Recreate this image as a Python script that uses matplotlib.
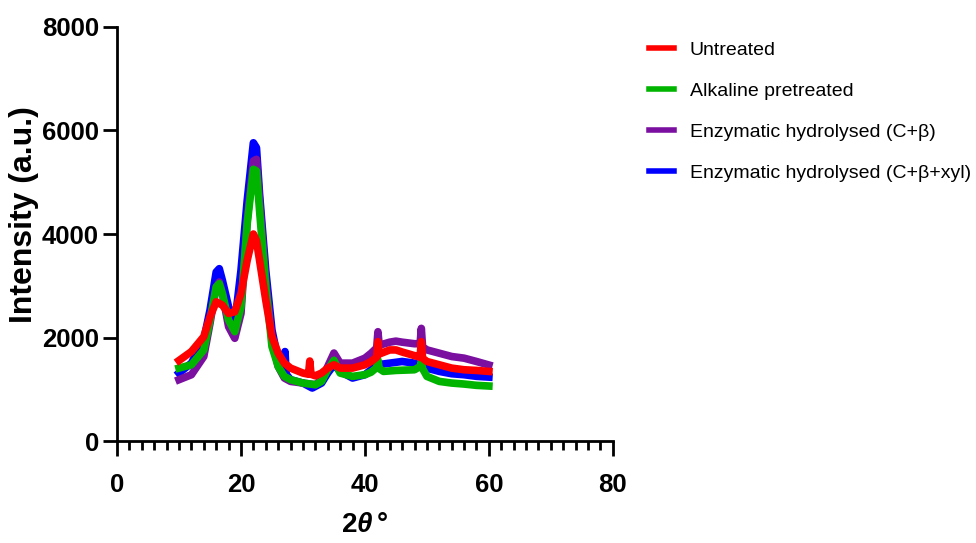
import numpy as np
import matplotlib
matplotlib.use("Agg")
import matplotlib.pyplot as plt
from matplotlib.ticker import MultipleLocator

plt.rcParams['font.family'] = ['Liberation Sans', 'DejaVu Sans']
plt.rcParams['mathtext.fontset'] = 'custom'
plt.rcParams['mathtext.bf'] = 'Liberation Sans:bold'
plt.rcParams['mathtext.it'] = 'Liberation Sans:bold:italic'
plt.rcParams['mathtext.rm'] = 'Liberation Sans:bold'

# values (2theta in degrees, intensity in a.u.)
untreated_x = [10, 12, 14, 15, 16, 17, 18, 19, 20, 21, 22, 22.5, 23, 24, 25, 26, 27, 28,
               30, 30.9, 31.1, 31.3, 32, 33, 34, 35, 36, 38, 40, 41, 41.9, 42.1, 42.3,
               44, 45, 46, 48, 48.9, 49.1, 49.3, 50, 52, 54, 56, 58, 60]
untreated_y = [1556, 1728, 2017, 2400, 2690, 2625, 2465, 2497, 2850, 3490, 4000, 3870, 3490,
               2720, 2017, 1697, 1505, 1409, 1313, 1290, 1546, 1290, 1260, 1313, 1409, 1473,
               1409, 1409, 1473, 1537, 1620, 1920, 1680, 1760, 1760, 1720, 1650, 1620, 1919,
               1600, 1537, 1473, 1409, 1377, 1364, 1345]

alkaline_x = [10, 12, 14, 15, 16, 16.5, 17, 18, 19, 20, 21, 22, 22.5, 23, 24, 25, 26, 27, 28,
              30, 32, 33, 34, 35, 36, 38, 40, 41, 41.9, 42.1, 42.3, 43, 45, 48, 48.9, 49.1,
              49.3, 50, 52, 54, 56, 58, 60]
alkaline_y = [1409, 1473, 1760, 2337, 2977, 3041, 2850, 2337, 2113, 2593, 4194, 5250, 5218,
              4450, 2977, 1825, 1441, 1249, 1185, 1120, 1088, 1152, 1377, 1560, 1313, 1249,
              1281, 1330, 1420, 1565, 1400, 1345, 1364, 1377, 1440, 1533, 1400, 1249, 1152,
              1120, 1101, 1076, 1063]

enz_cb_x = [10, 12, 14, 15, 16, 16.5, 17, 18, 19, 20, 21, 22, 22.5, 23, 24, 25, 26, 27, 28,
            30, 32, 33, 34, 35, 36, 38, 40, 41, 41.9, 42.1, 42.3, 44, 45, 46, 48, 48.9, 49.1,
            49.3, 50, 52, 54, 56, 58, 60]
enz_cb_y = [1185, 1281, 1633, 2273, 2977, 3073, 2850, 2209, 1985, 2465, 4258, 5411, 5443,
            4642, 3105, 1953, 1441, 1217, 1152, 1120, 1088, 1185, 1441, 1700, 1505, 1505,
            1601, 1697, 1800, 2112, 1850, 1910, 1930, 1910, 1880, 1880, 2177, 1820, 1761,
            1697, 1633, 1601, 1537, 1469]

enz_cbx_x = [10, 12, 14, 15, 16, 16.5, 17, 18, 19, 20, 21, 22, 22.5, 23, 24, 25, 26, 26.9,
             27.1, 27.3, 28, 30, 31.5, 33, 34, 35, 36, 38, 40, 42, 44, 46, 48, 50, 52, 54,
             56, 58, 60]
enz_cbx_y = [1313, 1505, 1953, 2529, 3265, 3330, 3105, 2593, 2273, 3297, 4642, 5763, 5667,
             4770, 3297, 2145, 1569, 1330, 1729, 1290, 1185, 1120, 1024, 1120, 1313, 1473,
             1345, 1217, 1281, 1473, 1505, 1537, 1505, 1409, 1345, 1300, 1281, 1250, 1235]

labels = ["Untreated", "Alkaline pretreated",
          "Enzymatic hydrolysed (C+β)", "Enzymatic hydrolysed (C+β+xyl)"]
colors = ["#ff0000", "#00b400", "#7a0fa0", "#0000ff"]
xs = [untreated_x, alkaline_x, enz_cb_x, enz_cbx_x]
ys = [untreated_y, alkaline_y, enz_cb_y, enz_cbx_y]

fig = plt.figure(figsize=(9.76, 5.43), dpi=100)
ax = fig.add_axes([0.1199, 0.1878, 0.508, 0.7625])

# draw blue first, red last (red sits on top in the original)
lines = [None] * 4
for i in [3, 2, 1, 0]:
    lines[i], = ax.plot(xs[i], ys[i], color=colors[i], lw=5.5,
                        solid_joinstyle='round', label=labels[i])

ax.set_xlim(0, 80)
ax.set_ylim(0, 8000)
ax.xaxis.set_major_locator(MultipleLocator(20))
ax.xaxis.set_minor_locator(MultipleLocator(2))
ax.yaxis.set_major_locator(MultipleLocator(2000))

for s in ['top', 'right']:
    ax.spines[s].set_visible(False)
for s in ['left', 'bottom']:
    ax.spines[s].set_linewidth(2.0)

ax.tick_params(axis='y', which='major', direction='out', length=10, width=2.0, pad=3)
ax.tick_params(axis='x', which='major', direction='out', length=11, width=2.0, pad=12)
ax.tick_params(axis='x', which='minor', direction='out', length=6.5, width=2.0)
for lab in ax.get_yticklabels():
    lab.set_fontweight('bold')
    lab.set_fontsize(18.5)
for lab in ax.get_xticklabels():
    lab.set_fontweight('bold')
    lab.set_fontsize(18.5)

ax.set_ylabel("Intensity (a.u.)", fontsize=23, fontweight='bold')
ax.yaxis.set_label_coords(-0.158, 0.546)
ax.set_xlabel(r"$\mathbf{2}\theta\,\mathbf{°}$", fontsize=20, labelpad=11)

leg = fig.legend(lines, labels, loc='upper left',
                 bbox_to_anchor=(0.647, 0.956), frameon=False, fontsize=14,
                 handlelength=1.3, handletextpad=0.8, labelspacing=1.2)
for l in leg.get_lines():
    l.set_linewidth(4)

fig.savefig("out.png", dpi=100)
